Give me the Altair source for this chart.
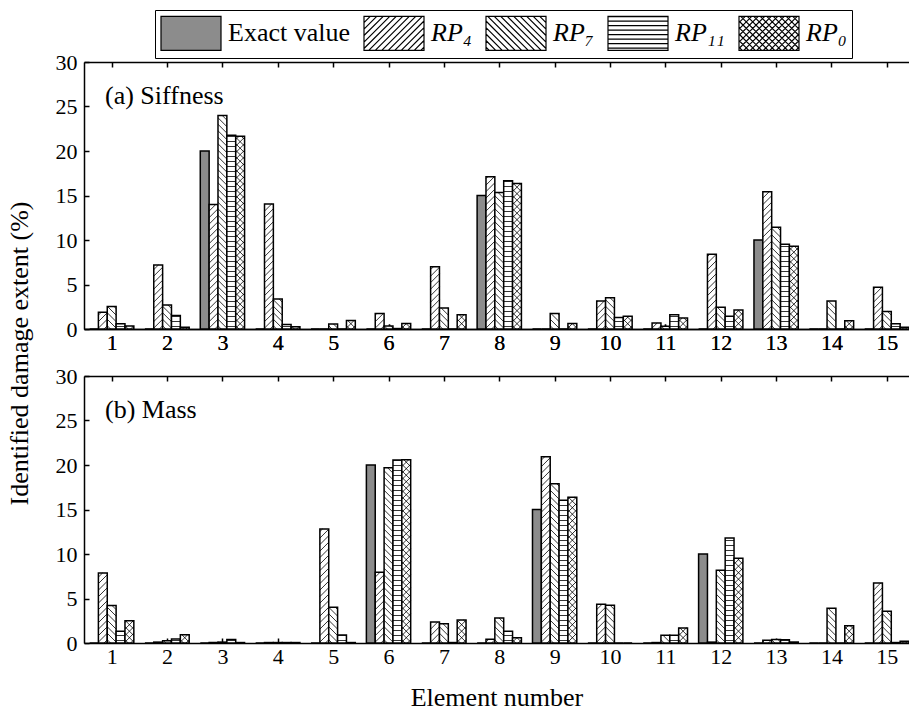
import altair as alt
import pandas as pd

# ---------------- data ----------------
elements = list(range(1, 16))
series_names = ["Exact value", "RP₄", "RP₇", "RP₁₁", "RP₀"]
panel_labels = ["(a) Siffness", "(b) Mass"]

stiff_exact = [0, 0, 20, 0, 0, 0, 0, 15, 0, 0, 0, 0, 10, 0, 0]
stiff_rp4 = [1.87, 7.2, 14.0, 14.05, 0.0, 1.75, 7.0, 17.1, 0.0, 3.15, 0.67, 8.4, 15.43, 0.0, 4.7]
stiff_rp7 = [2.52, 2.7, 23.98, 3.36, 0.55, 0.35, 2.35, 15.35, 1.75, 3.5, 0.3, 2.43, 11.43, 3.15, 1.98]
stiff_rp11 = [0.58, 1.53, 21.78, 0.5, 0.0, 0.05, 0.0, 16.66, 0.0, 1.28, 1.6, 1.42, 9.53, 0.0, 0.6]
stiff_rp0 = [0.33, 0.2, 21.67, 0.26, 0.95, 0.63, 1.6, 16.36, 0.63, 1.44, 1.23, 2.13, 9.3, 0.93, 0.2]

mass_exact = [0, 0, 0, 0, 0, 20, 0, 0, 15, 0, 0, 10, 0, 0, 0]
mass_rp4 = [7.87, 0.1, 0.05, 0.05, 12.82, 7.95, 2.36, 0.41, 20.92, 4.35, 0.05, 0.1, 0.3, 0.0, 6.75]
mass_rp7 = [4.2, 0.25, 0.1, 0.05, 4.01, 19.69, 2.17, 2.81, 17.89, 4.24, 0.86, 8.17, 0.4, 3.9, 3.56]
mass_rp11 = [1.31, 0.45, 0.4, 0.05, 0.9, 20.55, 0.05, 1.31, 16.05, 0.0, 0.86, 11.81, 0.37, 0.0, 0.05]
mass_rp0 = [2.51, 0.94, 0.05, 0.05, 0.05, 20.58, 2.59, 0.6, 16.39, 0.0, 1.69, 9.52, 0.11, 1.95, 0.2]

y_ticks = [0, 5, 10, 15, 20, 25, 30]

# ---------------- styling / geometry ----------------
FONT = "Liberation Serif"
W, H = 825, 267
X_MIN, X_MAX = 0.5, 15.4
Y_MAX = 30
PX = W / (X_MAX - X_MIN)
PY = H / Y_MAX
BAR_W = 0.16
DIAG_STEP = 6.5
HORIZ_STEP = 5.0
GRAY = "#8c8c8c"
PATTERNS = {"Exact value": [], "RP₄": ["/"], "RP₇": ["\\"], "RP₁₁": ["-"], "RP₀": ["/", "\\"]}


def hatch_lines(w, h, kinds, step=DIAG_STEP, hstep=HORIZ_STEP):
    segs = []
    for kind in kinds:
        if kind == "/":
            c = -w + step / 2
            while c < h:
                xa, xb = max(0.0, -c), min(w, h - c)
                if xb - xa > 0.2:
                    segs.append((xa, xa + c, xb, xb + c))
                c += step
        elif kind == "\\":
            c = step / 2
            while c < h + w:
                xa, xb = max(0.0, c - h), min(w, c)
                if xb - xa > 0.2:
                    segs.append((xa, c - xa, xb, c - xb))
                c += step
        elif kind == "-":
            c = hstep / 2
            while c < h:
                segs.append((0.0, c, w, c))
                c += hstep
    return segs


def panel_frames(values_by_series):
    bar_rows, hatch_rows = [], []
    for k, (name, vals) in enumerate(zip(series_names, values_by_series)):
        for e, v in zip(elements, vals):
            left = e - 2.5 * BAR_W + k * BAR_W
            bar_rows.append({"series": name, "element": e, "value": v, "base": 0.0,
                             "left": left, "right": left + BAR_W})
            for xa, ya, xb, yb in hatch_lines(BAR_W * PX, v * PY, PATTERNS[name]):
                hatch_rows.append({"series": name, "hx": left + xa / PX, "hy": ya / PY,
                                   "hx2": left + xb / PX, "hy2": yb / PY})
    return pd.DataFrame(bar_rows), pd.DataFrame(hatch_rows)


# legend swatch: SW x SH px; symbol "size" is SH^2 so the entry height is SH
SW, SH = 60.0, 34.0


def symbol_path(name):
    hx = SW / SH
    p = f"M{-hx:.3f},-1H{hx:.3f}V1H{-hx:.3f}Z"
    for xa, ya, xb, yb in hatch_lines(SW, SH, PATTERNS[name], step=6.5, hstep=4.5):
        p += (f"M{-hx + 2 * xa / SH:.3f},{1 - 2 * ya / SH:.3f}"
              f"L{-hx + 2 * xb / SH:.3f},{1 - 2 * yb / SH:.3f}")
    return p


x_scale = alt.Scale(domain=[X_MIN, X_MAX], nice=False, zero=False)
y_scale = alt.Scale(domain=[0, Y_MAX], nice=False)
fill_scale = alt.Scale(domain=series_names, range=[GRAY, "white", "white", "white", "white"])
stroke_scale = alt.Scale(domain=series_names, range=["black"] * 5)
shape_scale = alt.Scale(domain=series_names, range=[symbol_path(n) for n in series_names])

axis_common = dict(
    grid=False, domainColor="black", domainWidth=1.5, tickColor="black", tickWidth=1.5,
    tickSize={"expr": "-5"}, labelFont=FONT, labelFontSize=22, labelColor="black",
    labelFlush=False, titleFont=FONT, titleFontSize=26, titleFontWeight="normal",
    titleColor="black",
)

legend = alt.Legend(
    title=None, orient="none", legendX=71, legendY=-52, direction="horizontal",
    symbolSize=SH * SH, symbolOffset=(SW - SH) / 2, symbolStrokeColor="black",
    symbolStrokeWidth=1.2, symbolOpacity=1,
    labelFont=FONT, labelFontSize=26, labelColor="black", labelOffset=19,
    columnPadding=11, labelLimit=400, strokeColor="black", fillColor="white", padding=5,
    labelFontStyle={"expr": "datum.label === 'Exact value' ? 'normal' : 'italic'"},
)


def panel(values_by_series, label, is_top):
    bdf, hdf = panel_frames(values_by_series)
    bottom_axis = alt.Axis(orient="bottom", values=elements, format="d", labelPadding=8,
                           title=None if is_top else "Element number",
                           titleY=62, titleBaseline="alphabetic", **axis_common)
    left_axis = alt.Axis(orient="left", values=y_ticks, labelPadding=12,
                         title="Identified damage extent (%)" if is_top else None,
                         titleX=-57, titleY=291, titleBaseline="alphabetic", titleAngle=-90,
                         **axis_common)
    top_axis = alt.Axis(orient="top", values=elements, labels=False, title=None, **axis_common)

    bars = alt.Chart(bdf).mark_bar(stroke="black", strokeWidth=1.5, clip=True).encode(
        x=alt.X("left:Q", scale=x_scale, axis=bottom_axis),
        x2="right:Q",
        y=alt.Y("value:Q", scale=y_scale, axis=left_axis, stack=None),
        y2="base:Q",
        fill=alt.Fill("series:N", scale=fill_scale, legend=legend),
    )
    hatch = alt.Chart(hdf).mark_rule(color="black", strokeWidth=0.8, clip=True).encode(
        x=alt.X("hx:Q", scale=x_scale, axis=top_axis),
        x2="hx2:Q",
        y=alt.Y("hy:Q", scale=y_scale, axis=left_axis),
        y2="hy2:Q",
    )
    text = alt.Chart(pd.DataFrame({"t": [label]})).mark_text(
        align="left", baseline="middle", font=FONT, fontSize=26, color="black"
    ).encode(text="t:N", x=alt.value(21), y=alt.value(34))
    layers = [bars, hatch, text]
    if is_top:
        key = alt.Chart(bdf).transform_filter("false").mark_point(
            filled=True, strokeWidth=1.2, opacity=1
        ).encode(
            x=alt.X("left:Q", scale=x_scale, axis=bottom_axis),
            y=alt.Y("value:Q", scale=y_scale, axis=left_axis),
            fill=alt.Fill("series:N", scale=fill_scale, legend=legend),
            stroke=alt.Stroke("series:N", scale=stroke_scale, legend=legend),
            shape=alt.Shape("series:N", scale=shape_scale, legend=legend),
        )
        layers.append(key)
    return alt.layer(*layers).resolve_axis(x="independent").properties(width=W, height=H)


top = panel([stiff_exact, stiff_rp4, stiff_rp7, stiff_rp11, stiff_rp0], panel_labels[0], True)
bottom = panel([mass_exact, mass_rp4, mass_rp7, mass_rp11, mass_rp0], panel_labels[1], False)

chart = alt.vconcat(top, bottom, spacing=47, bounds="flush").configure_view(
    stroke=None
).properties(
    padding={"left": 6, "top": 9, "right": 0, "bottom": 5},
    background="white",
)

chart.save("out.html", embed_options={"renderer": "svg", "actions": False})
